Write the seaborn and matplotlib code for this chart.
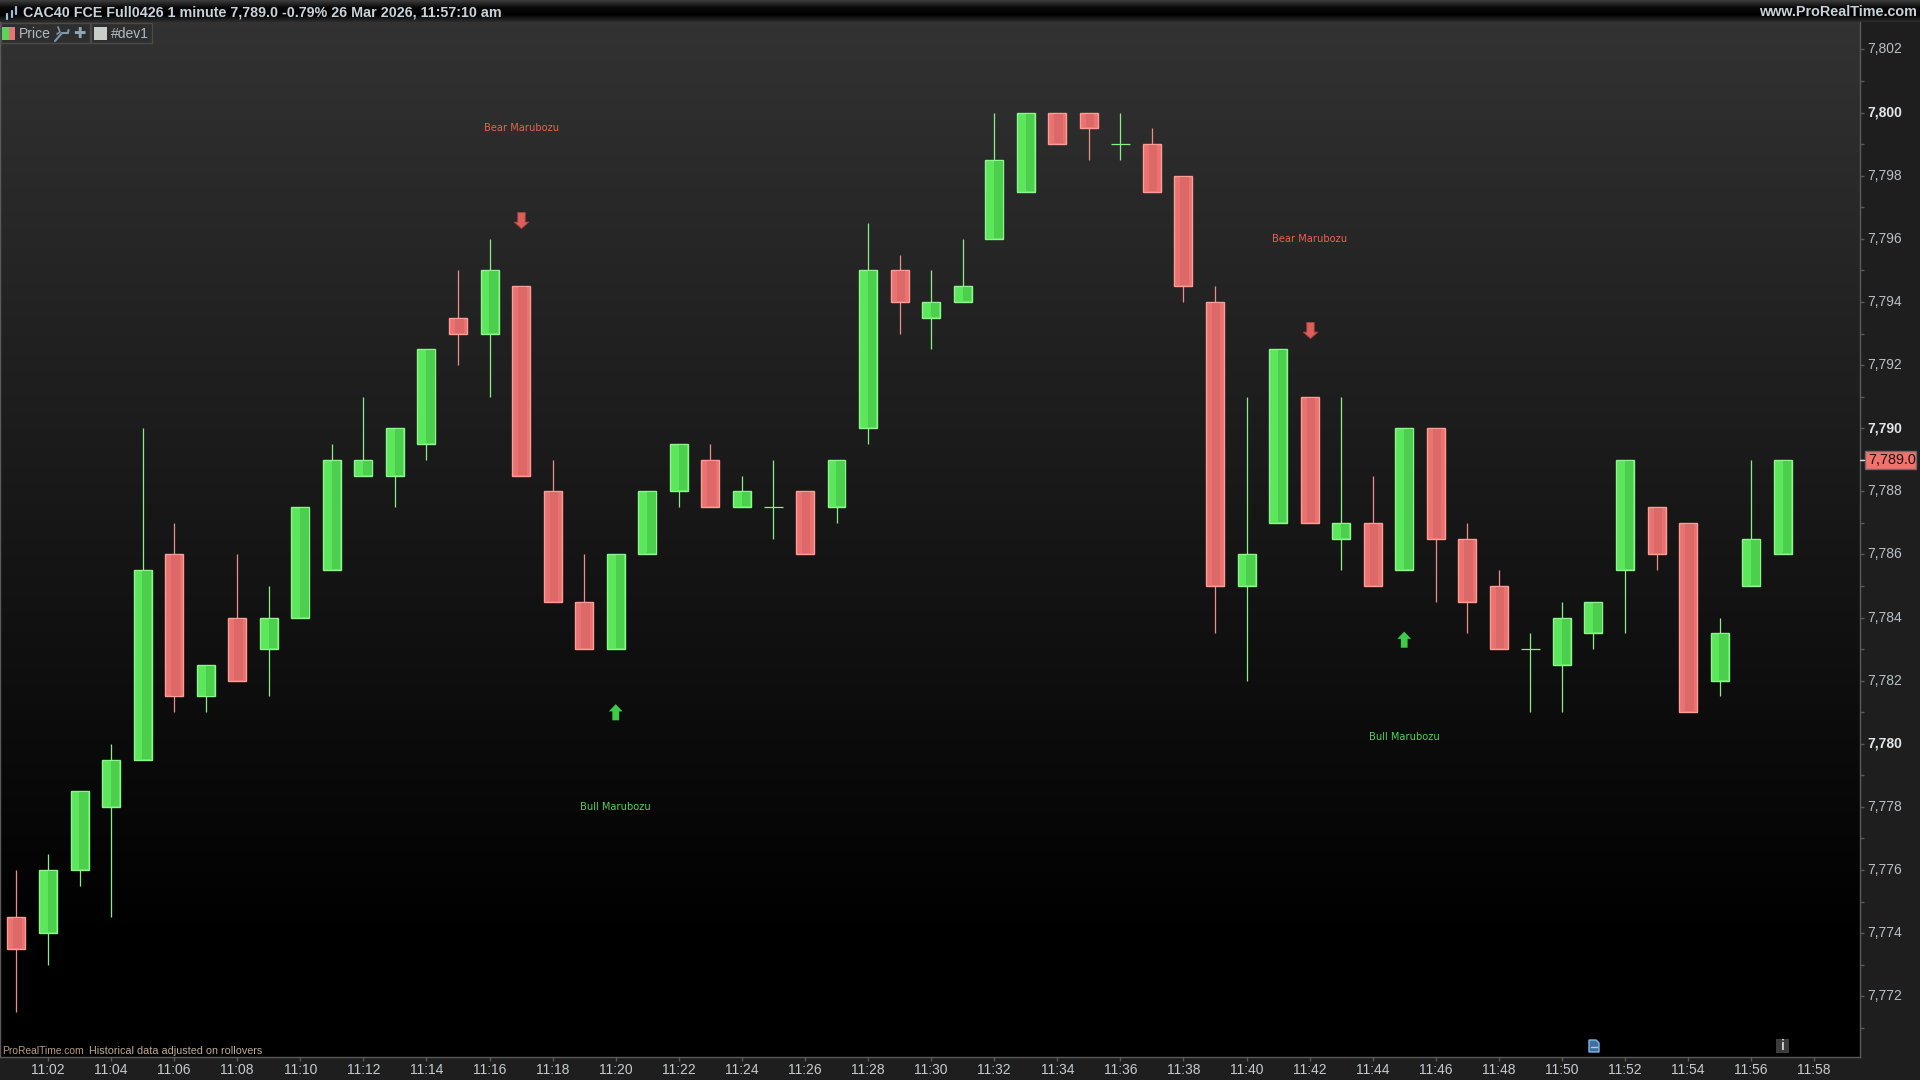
import seaborn as sns
import matplotlib.pyplot as plt
import numpy as np
import pandas as pd
from matplotlib.path import Path
from matplotlib.patches import Rectangle, Polygon

# minutes after 11:00
minutes = list(range(1, 58))
opens = [7774.5, 7774, 7776, 7778, 7779.5, 7786, 7781.5, 7784, 7783, 7784,
         7785.5, 7788.5, 7788.5, 7789.5, 7793.5, 7793, 7794.5, 7788, 7784.5, 7783,
         7786, 7788, 7789, 7787.5, 7787.5, 7788, 7787.5, 7790, 7795, 7793.5,
         7794, 7796, 7797.5, 7800, 7800, 7799, 7799, 7798, 7794, 7785,
         7787, 7791, 7786.5, 7787, 7785.5, 7790, 7786.5, 7785, 7783, 7782.5,
         7783.5, 7785.5, 7787.5, 7787, 7782, 7785, 7786]
closes = [7773.5, 7776, 7778.5, 7779.5, 7785.5, 7781.5, 7782.5, 7782, 7784, 7787.5,
          7789, 7789, 7790, 7792.5, 7793, 7795, 7788.5, 7784.5, 7783, 7786,
          7788, 7789.5, 7787.5, 7788, 7787.5, 7786, 7789, 7795, 7794, 7794,
          7794.5, 7798.5, 7800, 7799, 7799.5, 7799, 7797.5, 7794.5, 7785, 7786,
          7792.5, 7787, 7787, 7785, 7790, 7786.5, 7784.5, 7783, 7783, 7784,
          7784.5, 7789, 7786, 7781, 7783.5, 7786.5, 7789]
highs = [7776, 7776.5, 7778.5, 7780, 7790, 7787, 7782.5, 7786, 7785, 7787.5,
         7789.5, 7791, 7790, 7792.5, 7795, 7796, 7794.5, 7789, 7786, 7786,
         7788, 7789.5, 7789.5, 7788.5, 7789, 7788, 7789, 7796.5, 7795.5, 7795,
         7796, 7800, 7800, 7800, 7800, 7800, 7799.5, 7798, 7794.5, 7791,
         7792.5, 7791, 7791, 7788.5, 7790, 7790, 7787, 7785.5, 7783.5, 7784.5,
         7784.5, 7789, 7787.5, 7787, 7784, 7789, 7789]
lows = [7771.5, 7773, 7775.5, 7774.5, 7779.5, 7781, 7781, 7782, 7781.5, 7784,
        7785.5, 7788.5, 7787.5, 7789, 7792, 7791, 7788.5, 7784.5, 7783, 7783,
        7786, 7787.5, 7787.5, 7787.5, 7786.5, 7786, 7787, 7789.5, 7793, 7792.5,
        7794, 7796, 7797.5, 7799, 7798.5, 7798.5, 7797.5, 7794, 7783.5, 7782,
        7787, 7787, 7785.5, 7785, 7785.5, 7784.5, 7783.5, 7783, 7781, 7781,
        7783, 7783.5, 7785.5, 7781, 7781.5, 7785, 7786]

time_ticks = list(range(2, 60, 2))
time_labels = [f"11:{m:02d}" for m in time_ticks]
price_ticks = list(range(7771, 7803))
price_labels = list(range(7772, 7804, 2))
bold_prices = [7780, 7790, 7800]

bear_minutes = [17, 42]
bear_arrow = [7796.6, 7793.1]
bear_text = [7799.5, 7796.0]
bull_minutes = [20, 45]
bull_arrow = [7781.0, 7783.3]
bull_text = [7778.0, 7780.2]

last_price = 7789.0
title = "CAC40 FCE Full0426 1 minute 7,789.0 -0.79% 26 Mar 2026, 11:57:10 am"

sns.set_theme(style="dark")
plt.rcParams['font.family'] = ['Liberation Sans', 'DejaVu Sans']

W, H = 1920, 1080
PX_PT = 31.56
Y7800 = 112.6
fig = plt.figure(figsize=(19.2, 10.8), dpi=100, facecolor="#1e1e1e")

# page layer in pixels
bg = fig.add_axes([0, 0, 1, 1], zorder=0)
top_bar = np.linspace(0, 1, 22).reshape(-1, 1)
bg.imshow(top_bar, extent=[0, W, 22, 0], cmap=sns.blend_palette(["#3a3a3a", "#0a0a0a", "#000000", "#2a2a2a"], as_cmap=True),
          aspect="auto", zorder=1)
bg.set_xlim(0, W)
bg.set_ylim(H, 0)
bg.axis("off")

ax = fig.add_axes([0, 1 - 1057 / H, 1860 / W, (1057 - 22) / H], zorder=1)
y_top = 7800 + (Y7800 - 22) / PX_PT
y_bottom = 7800 - (1057 - Y7800) / PX_PT
x_left = 2 - 48 / 31.54
x_right = 2 + (1860 - 48) / 31.54

gradient = np.clip(np.linspace(0, 1.12, 256), 0, 1).reshape(-1, 1)
grad_cmap = sns.blend_palette(["#323232", "#000000"], as_cmap=True)
ax.imshow(gradient, extent=[x_left, x_right, y_bottom, y_top], cmap=grad_cmap, aspect="auto", zorder=0)

df = pd.DataFrame({"minute": minutes, "open": opens, "close": closes, "high": highs, "low": lows})
df["up"] = df["close"] >= df["open"]
df["base"] = df[["open", "close"]].min(axis=1)
df["size"] = (df["close"] - df["open"]).abs()

# wicks
for up, wick in [(True, "#86ef86"), (False, "#f08c8c")]:
    part = df[df["up"] == up]
    ax.vlines(part["minute"], part["low"], part["high"], color=wick, lw=0.9, zorder=2)

# bodies, with the dithered strip ProRealTime draws inside each one
for up, fill, edge, strip, off in [(True, "#5ce65c", "#8cf58c", "#4ccf4c", 0.13), (False, "#ea7272", "#ff9c94", "#dd6868", 0.04)]:
    part = df[(df["up"] == up) & (df["size"] > 0)]
    sns.barplot(data=part, x="minute", y="size", bottom=part["base"].values, native_scale=True,
                width=0.57, color=fill, saturation=1, edgecolor=edge, linewidth=1, ax=ax, zorder=3)
    ax.bar(part["minute"] + off, part["size"] - 0.06, bottom=part["base"] + 0.03, width=0.27, color=strip, lw=0, zorder=4)

# doji crosses
doji = df[df["size"] == 0]
ax.hlines(doji["open"], doji["minute"] - 0.3, doji["minute"] + 0.3, color="#86ef86", lw=0.9, zorder=2)

# marubozu signals
down_arrow = Path([(-.23, .5), (.23, .5), (.23, -.1), (.45, -.1), (0, -.5), (-.45, -.1), (-.23, -.1), (-.23, .5)], closed=True)
up_arrow = Path([(-.21, -.5), (.21, -.5), (.21, .05), (.43, .05), (0, .5), (-.43, .05), (-.21, .05), (-.21, -.5)], closed=True)
sns.scatterplot(x=bear_minutes, y=bear_arrow, marker=down_arrow, s=135, color="#dc5f5c", edgecolor="#a8423c", linewidth=0.6, ax=ax, zorder=5)
sns.scatterplot(x=bull_minutes, y=bull_arrow, marker=up_arrow, s=135, color="#3ccc46", edgecolor="none", ax=ax, zorder=5)
for m, y in zip(bear_minutes, bear_text):
    ax.text(m, y, "Bear Marubozu", color="#e8634f", fontsize=7.1, family="DejaVu Sans", ha="center", va="center", zorder=5)
for m, y in zip(bull_minutes, bull_text):
    ax.text(m, y, "Bull Marubozu", color="#4bd457", fontsize=7.1, family="DejaVu Sans", ha="center", va="center", zorder=5)

ax.set_xlim(x_left, x_right)
ax.set_ylim(y_bottom, y_top)
ax.set_xlabel("")
ax.set_ylabel("")
ax.grid(False)
ax.yaxis.tick_right()
ax.set_xticks(time_ticks, time_labels)
ax.set_yticks(price_ticks, [""] * len(price_ticks))
ax.tick_params(axis="x", length=3, width=1, color="#5a5a5a", direction="out", pad=1.5, labelsize=10, labelcolor="#c4ccd2", bottom=True)
ax.tick_params(axis="y", length=3, width=1, color="#5a5a5a", direction="out", right=True)
ax.spines["top"].set_visible(False)
for side in ["bottom", "right", "left"]:
    ax.spines[side].set_color("#5a5a5a")
    ax.spines[side].set_linewidth(1)

# price labels, bold every 10 points
for p in price_labels:
    bold = p in bold_prices
    ax.annotate(f"{p:,}", xy=(1, p), xycoords=("axes fraction", "data"), xytext=(5, 0), textcoords="offset points",
                ha="left", va="center", fontsize=10, color="#e2e6e8" if bold else "#b8c0c6",
                fontweight="bold" if bold else "normal", annotation_clip=False)

# overlay for chrome: flag, header, tabs, footer
top = fig.add_axes([0, 0, 1, 1], zorder=2)
top.set_xlim(0, W)
top.set_ylim(H, 0)
top.axis("off")
flag_y = Y7800 + (7800 - last_price) * PX_PT
top.add_patch(Rectangle((1865, flag_y - 9), 51, 18, fc="#f2736c", ec="#6a6a6a", lw=1))
top.plot([1860, 1864], [flag_y, flag_y], color="#dddddd", lw=1)
top.text(1868, flag_y + 0.5, f"{last_price:,.1f}", fontsize=10.4, color="#201010", va="center", ha="left")

top.text(23, 12.5, title, fontsize=10.27, fontweight="bold", color="#c8d2da", va="center", ha="left")
top.text(1917, 12.5, "www.ProRealTime.com", fontsize=10.4, fontweight="bold", color="#c8d2da", va="center", ha="right")
# small candle icon before the title
for cx, y0, y1 in [(7, 14, 19), (12, 11, 17), (16, 7, 14)]:
    top.plot([cx, cx], [y0, y1], color="#9fc0d8", lw=1.6)

top.add_patch(Rectangle((1, 23), 89, 20, fc="#2e2e2e", ec="#4a4a4a", lw=1))
top.add_patch(Rectangle((91, 23), 61, 20, fc="#2e2e2e", ec="#4a4a4a", lw=1))
top.add_patch(Rectangle((2, 27), 7, 13, fc="#55d855", lw=0))
top.add_patch(Rectangle((9, 27), 6, 13, fc="#ea7272", lw=0))
top.text(19, 33.5, "Price", fontsize=10, color="#aebcc6", va="center", ha="left")
top.plot([55, 62, 68, 68.5], [41, 33, 33, 30], color="#7f97a8", lw=1.5)
top.plot([58, 60, 57], [27, 32, 34], color="#7f97a8", lw=1.2)
top.text(79.5, 33.5, "✚", fontsize=10.5, color="#8fa8b6", family="DejaVu Sans", va="center", ha="center")
top.add_patch(Rectangle((94, 27), 13, 13, fc="#c8cec8", lw=0))
top.text(111, 33.5, "#dev1", fontsize=10, color="#aebcc6", va="center", ha="left")

top.text(2, 1051, "ProRealTime.com", fontsize=7.4, color="#b89c80", va="center", ha="left")
top.text(89, 1051, "Historical data adjusted on rollovers", fontsize=7.75, color="#c0ac98", va="center", ha="left")
top.add_patch(Polygon([(1589, 1040), (1596, 1040), (1599, 1043), (1599, 1052), (1589, 1052)], closed=True, fc="#3f6f9a", ec="#7fb7e5", lw=1))
top.plot([1591, 1597], [1047, 1047], color="#a8d0ee", lw=1)
top.add_patch(Rectangle((1776, 1039), 13, 14, fc="#3c3c3c", lw=0))
top.text(1782.5, 1046, "i", fontsize=10, fontweight="bold", color="#d0d0d0", va="center", ha="center")

fig.savefig("out.png", dpi=100, facecolor=fig.get_facecolor())
